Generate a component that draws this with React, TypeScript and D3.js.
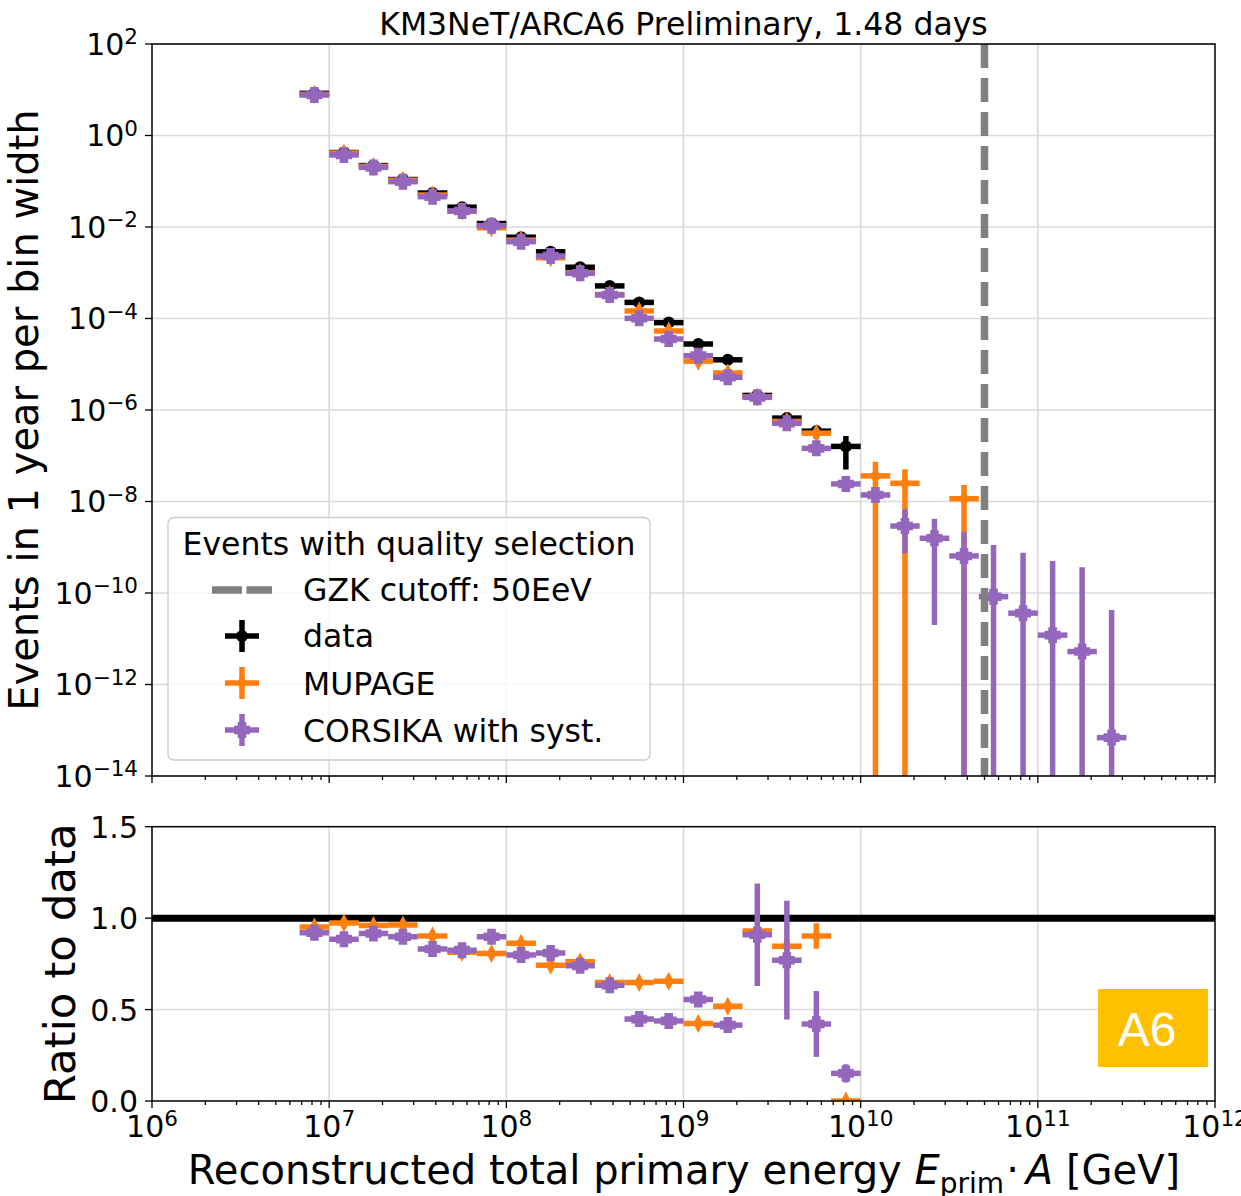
import React from 'react';
import * as d3 from 'd3';

// log10 of the reconstructed energy bin edges [GeV]
const binEdgesLog = [
  6.833, 7.0, 7.167, 7.333, 7.5, 7.667, 7.833, 8.0, 8.167, 8.333, 8.5, 8.667, 8.833, 9.0, 9.167,
  9.333, 9.5, 9.667, 9.833, 10.0, 10.167, 10.333, 10.5, 10.667, 10.833, 11.0, 11.167, 11.333, 11.5,
];

// Events in 1 year per bin width
const dataRate = [
  8.34, 0.424, 0.22, 0.109, 0.0553, 0.0271, 0.0119, 5.98e-3, 2.87e-3, 1.32e-3, 5.16e-4, 2.25e-4,
  8.13e-5, 2.77e-5, 1.25e-5, 2.08e-6, 6.65e-7, 3.45e-7, 1.6e-7,
  null, null, null, null, null, null, null, null, null,
];
const dataErr = [
  0, 0, 0, 0, 0, 0, 0, 0, 0, 0, 0, 0, 0, 0, 0, 0.5e-6, 2.0e-7, 1.1e-7, 1.1e-7,
  0, 0, 0, 0, 0, 0, 0, 0, 0,
];

const mupageRate = [
  7.94, 0.413, 0.211, 0.105, 0.05, 0.0221, 9.62e-3, 5.15e-3, 2.13e-3, 1.0e-3, 3.34e-4, 1.46e-4,
  5.33e-5, 1.17e-5, 6.46e-6, 1.93e-6, 5.62e-7, 3.11e-7, null, 3.63e-8, 2.5e-8, null, 1.15e-8,
  null, null, null, null, null,
];
const mupageErr = [
  0, 0, 0, 0, 0, 0, 0, 0, 0, 0, 0, 0, 0, 0, 0, 0, 0, 0, 0, 3.8e-8, 2.55e-8, 0, 1.15e-8,
  0, 0, 0, 0, 0,
];

const corsikaRate = [
  7.67, 0.375, 0.201, 0.0979, 0.046, 0.0224, 0.0107, 4.78e-3, 2.32e-3, 9.73e-4, 3.27e-4, 1.01e-4,
  3.56e-5, 1.54e-5, 5.18e-6, 1.89e-6, 5.13e-7, 1.45e-7, 2.42e-8, 1.39e-8, 2.91e-9, 1.57e-9,
  6.46e-10, 8.3e-11, 3.63e-11, 1.2e-11, 5.25e-12, 6.9e-14,
];
const corsikaErrLo = [
  0, 0, 0, 0, 0, 0, 0, 0, 0, 0, 0, 0, 0, 0, 0, 0, 0, 0, 0, 0,
  2.17e-9, 1.55e-9, 6.46e-10, 8.3e-11, 3.63e-11, 1.2e-11, 5.25e-12, 6.9e-14,
];
const corsikaErrHi = [
  0, 0, 0, 0, 0, 0, 0, 0, 0, 0, 0, 0, 0, 0, 0, 0, 0, 0, 0, 0,
  3.85e-9, 2.6e-9, 1.54e-9, 1.04e-9, 7.2e-10, 4.9e-10, 3.58e-10, 4.26e-11,
];

// Ratio of each simulation to data
const mupageRatio = [
  0.952, 0.974, 0.96, 0.962, 0.902, 0.814, 0.807, 0.862, 0.742, 0.761, 0.648, 0.648, 0.655,
  0.424, 0.518, 0.929, 0.846, 0.902, 0.0,
];
const mupageRatioErr = [
  0.01, 0.01, 0.01, 0.01, 0.01, 0.01, 0.01, 0.01, 0.01, 0.01, 0.01, 0.01, 0.01, 0.01, 0.02,
  0.03, 0.04, 0.07, 0,
];
const corsikaRatio = [
  0.92, 0.885, 0.916, 0.898, 0.831, 0.825, 0.898, 0.798, 0.809, 0.739, 0.633, 0.448, 0.438,
  0.555, 0.415, 0.909, 0.77, 0.421, 0.151,
];
const corsikaRatioErr = [
  0.01, 0.01, 0.01, 0.01, 0.01, 0.01, 0.01, 0.01, 0.01, 0.01, 0.01, 0.01, 0.01, 0.01, 0.02,
  0.28, 0.325, 0.18, 0.05,
];

const yTopTickExps = [2, 0, -2, -4, -6, -8, -10, -12, -14];
const yBotTicks = [0.0, 0.5, 1.0, 1.5];
const xTickExps = [6, 7, 8, 9, 10, 11, 12];
const gzkCutoff = 5e10;

const W = 1241;
const H = 1196;
const L = 152;
const R = 1215;
const TOP_T = 44;
const TOP_B = 776;
const BOT_T = 826.7;
const BOT_B = 1101;

const ORANGE = '#ff7f0e';
const PURPLE = '#9467bd';
const GREY = '#808080';
const GRID = '#dadada';
const FONT = 'DejaVu Sans';
const LW = 5.5;

const x = d3.scaleLog().domain([1e6, 1e12]).range([L, R]);
const yTop = d3.scaleLog().domain([1e-14, 1e2]).range([TOP_B, TOP_T]);
const yBot = d3.scaleLinear().domain([0, 1.5]).range([BOT_B, BOT_T]);

const edges = binEdgesLog.map((e) => Math.pow(10, e));
const centers = binEdgesLog.slice(0, -1).map((e, i) => Math.pow(10, (e + binEdgesLog[i + 1]) / 2));

type MarkerKind = 'circle' | 'diamond' | 'plus';

function Marker({ kind, cx, cy, color }: { kind: MarkerKind; cx: number; cy: number; color: string }) {
  if (kind === 'circle') return <circle cx={cx} cy={cy} r={6} fill={color} />;
  if (kind === 'diamond') {
    return <path d={`M${cx},${cy - 9.5}L${cx + 5},${cy}L${cx},${cy + 9.5}L${cx - 5},${cy}Z`} fill={color} />;
  }
  const h = 8;
  const a = 4.3;
  const pts = [
    [-a, -h], [a, -h], [a, -a], [h, -a], [h, a], [a, a], [a, h], [-a, h], [-a, a], [-h, a], [-h, -a], [-a, -a],
  ];
  return <path d={'M' + pts.map((p) => `${cx + p[0]},${cy + p[1]}`).join('L') + 'Z'} fill={color} />;
}

function ErrSeries({
  values, errLo, errHi, yScale, logY, color, marker,
}: {
  values: (number | null)[];
  errLo: number[];
  errHi: number[];
  yScale: (v: number) => number;
  logY: boolean;
  color: string;
  marker: MarkerKind;
}) {
  return (
    <g>
      {values.map((v, i) => {
        if (v === null || v === undefined) return null;
        if (logY && v <= 0) return null;
        const cy = yScale(v);
        const cx = x(centers[i]);
        const lo = v - (errLo[i] || 0);
        const hi = v + (errHi[i] || 0);
        const yLo = logY && lo <= 0 ? TOP_B + 20 : yScale(lo);
        const yHi = yScale(hi);
        return (
          <g key={i}>
            <line x1={x(edges[i])} x2={x(edges[i + 1])} y1={cy} y2={cy} stroke={color} strokeWidth={LW} />
            {(errLo[i] || errHi[i]) ? (
              <line x1={cx} x2={cx} y1={yLo} y2={yHi} stroke={color} strokeWidth={LW} />
            ) : null}
            <Marker kind={marker} cx={cx} cy={cy} color={color} />
          </g>
        );
      })}
    </g>
  );
}

function Pow({ px, py, exp, anchor }: { px: number; py: number; exp: number; anchor: 'end' | 'middle' }) {
  const e = exp < 0 ? '\u2212' + Math.abs(exp) : String(exp);
  return (
    <text x={px} y={py} textAnchor={anchor} fontSize={30} fontFamily={FONT} fill="#000">
      10<tspan dy={-10.5} fontSize={21.5}>{e}</tspan>
    </text>
  );
}

function XTicks({ yAxis, labels }: { yAxis: number; labels: boolean }) {
  const ticks = x.ticks();
  return (
    <g>
      {ticks.map((t, i) => {
        const major = Math.abs(Math.log10(t) - Math.round(Math.log10(t))) < 1e-9;
        return (
          <line key={i} x1={x(t)} x2={x(t)} y1={yAxis} y2={yAxis + (major ? 7 : 4)} stroke="#000" strokeWidth={1.3} />
        );
      })}
      {labels &&
        xTickExps.map((e) => <Pow key={e} px={x(Math.pow(10, e))} py={yAxis + 35.5} exp={e} anchor="middle" />)}
    </g>
  );
}

function LegendCross({ cx, cy, color, marker }: { cx: number; cy: number; color: string; marker: MarkerKind }) {
  return (
    <g>
      <line x1={cx - 17} x2={cx + 17} y1={cy} y2={cy} stroke={color} strokeWidth={LW} />
      <line x1={cx} x2={cx} y1={cy - 16} y2={cy + 16} stroke={color} strokeWidth={LW} />
      <Marker kind={marker} cx={cx} cy={cy} color={color} />
    </g>
  );
}

export default function App() {
  const gridDecades = [7, 8, 9, 10, 11].map((e) => Math.pow(10, e));
  return (
    <svg
      width={W}
      height={H}
      viewBox={`0 0 ${W} ${H}`}
      style={{ position: 'absolute', left: 0, top: 0, background: '#fff' }}
      fontFamily={FONT}
    >
      <defs>
        <clipPath id="clipTop">
          <rect x={L} y={TOP_T} width={R - L} height={TOP_B - TOP_T} />
        </clipPath>
        <clipPath id="clipBot">
          <rect x={L} y={BOT_T} width={R - L} height={BOT_B - BOT_T} />
        </clipPath>
      </defs>
      <rect x={0} y={0} width={W} height={H} fill="#fff" />

      {/* ---------- upper panel: event rate ---------- */}
      <g>
        {gridDecades.map((d, i) => (
          <line key={'gx' + i} x1={x(d)} x2={x(d)} y1={TOP_T} y2={TOP_B} stroke={GRID} strokeWidth={1.6} />
        ))}
        {yTopTickExps.map((e) => (
          <line key={'gy' + e} x1={L} x2={R} y1={yTop(Math.pow(10, e))} y2={yTop(Math.pow(10, e))} stroke={GRID} strokeWidth={1.6} />
        ))}
        <g clipPath="url(#clipTop)">
          <ErrSeries values={dataRate} errLo={dataErr} errHi={dataErr} yScale={yTop} logY color="#000" marker="circle" />
          <ErrSeries values={mupageRate} errLo={mupageErr} errHi={mupageErr} yScale={yTop} logY color={ORANGE} marker="diamond" />
          <ErrSeries values={corsikaRate} errLo={corsikaErrLo} errHi={corsikaErrHi} yScale={yTop} logY color={PURPLE} marker="plus" />
          <line x1={x(gzkCutoff)} x2={x(gzkCutoff)} y1={TOP_T} y2={TOP_B} stroke={GREY} strokeWidth={7.5} strokeDasharray="24 10" />
        </g>
        <rect x={L} y={TOP_T} width={R - L} height={TOP_B - TOP_T} fill="none" stroke="#000" strokeWidth={1.5} />
        {yTopTickExps.map((e) => {
          const yy = yTop(Math.pow(10, e));
          return (
            <g key={'yt' + e}>
              <line x1={L - 7} x2={L} y1={yy} y2={yy} stroke="#000" strokeWidth={1.3} />
              <Pow px={138} py={yy + 10.7} exp={e} anchor="end" />
            </g>
          );
        })}
        <XTicks yAxis={TOP_B} labels={false} />
        <text x={(L + R) / 2} y={35} textAnchor="middle" fontSize={31.5}>
          KM3NeT/ARCA6 Preliminary, 1.48 days
        </text>
        <text transform={`translate(38,${(TOP_T + TOP_B) / 2}) rotate(-90)`} textAnchor="middle" fontSize={40}>
          Events in 1 year per bin width
        </text>

        {/* legend */}
        <rect x={168} y={517.5} width={482} height={242.5} rx={6} fill="#fff" fillOpacity={0.8} stroke="#cccccc" strokeWidth={1.3} />
        <text x={409} y={555} textAnchor="middle" fontSize={31.5}>Events with quality selection</text>
        <line x1={212} x2={272} y1={590} y2={590} stroke={GREY} strokeWidth={7.5} strokeDasharray="30 4.5" />
        <text x={303} y={601} fontSize={31.5}>GZK cutoff: 50EeV</text>
        <LegendCross cx={242} cy={636} color="#000" marker="circle" />
        <text x={303} y={647} fontSize={31.5}>data</text>
        <LegendCross cx={242} cy={683} color={ORANGE} marker="diamond" />
        <text x={303} y={695} fontSize={31.5}>MUPAGE</text>
        <LegendCross cx={242} cy={730} color={PURPLE} marker="plus" />
        <text x={303} y={742} fontSize={31.5}>CORSIKA with syst.</text>
      </g>

      {/* ---------- lower panel: ratio to data ---------- */}
      <g>
        {gridDecades.map((d, i) => (
          <line key={'bgx' + i} x1={x(d)} x2={x(d)} y1={BOT_T} y2={BOT_B} stroke={GRID} strokeWidth={1.6} />
        ))}
        {[0.5, 1.0].map((v) => (
          <line key={'bgy' + v} x1={L} x2={R} y1={yBot(v)} y2={yBot(v)} stroke={GRID} strokeWidth={1.6} />
        ))}
        <g clipPath="url(#clipBot)">
          <line x1={L} x2={R} y1={yBot(1)} y2={yBot(1)} stroke="#000" strokeWidth={7} />
          <ErrSeries values={mupageRatio} errLo={mupageRatioErr} errHi={mupageRatioErr} yScale={yBot} logY={false} color={ORANGE} marker="diamond" />
          <ErrSeries values={corsikaRatio} errLo={corsikaRatioErr} errHi={corsikaRatioErr} yScale={yBot} logY={false} color={PURPLE} marker="plus" />
        </g>
        <rect x={L} y={BOT_T} width={R - L} height={BOT_B - BOT_T} fill="none" stroke="#000" strokeWidth={1.5} />
        {yBotTicks.map((v) => (
          <g key={'byt' + v}>
            <line x1={L - 7} x2={L} y1={yBot(v)} y2={yBot(v)} stroke="#000" strokeWidth={1.3} />
            <text x={138} y={yBot(v) + 11} textAnchor="end" fontSize={30}>{v.toFixed(1)}</text>
          </g>
        ))}
        <XTicks yAxis={BOT_B} labels />
        <text transform={`translate(75,${(BOT_T + BOT_B) / 2}) rotate(-90)`} textAnchor="middle" fontSize={43.5}>
          Ratio to data
        </text>
        <text x={684} y={1184} textAnchor="middle" fontSize={40}>
          {'Reconstructed total primary energy '}
          <tspan fontStyle="italic">E</tspan>
          <tspan fontSize={28} dy={9}>prim</tspan>
          <tspan dy={-9} dx={2}>{'\u00b7'}</tspan>
          <tspan fontStyle="italic" dx={7}>A</tspan>
          {' [GeV]'}
        </text>

        {/* detector badge */}
        <rect x={1098} y={989} width={110} height={78} fill="#ffc000" />
        <text x={1147} y={1046} textAnchor="middle" fontSize={48} fontFamily="Liberation Sans" fill="#fff">A6</text>
      </g>
    </svg>
  );
}
